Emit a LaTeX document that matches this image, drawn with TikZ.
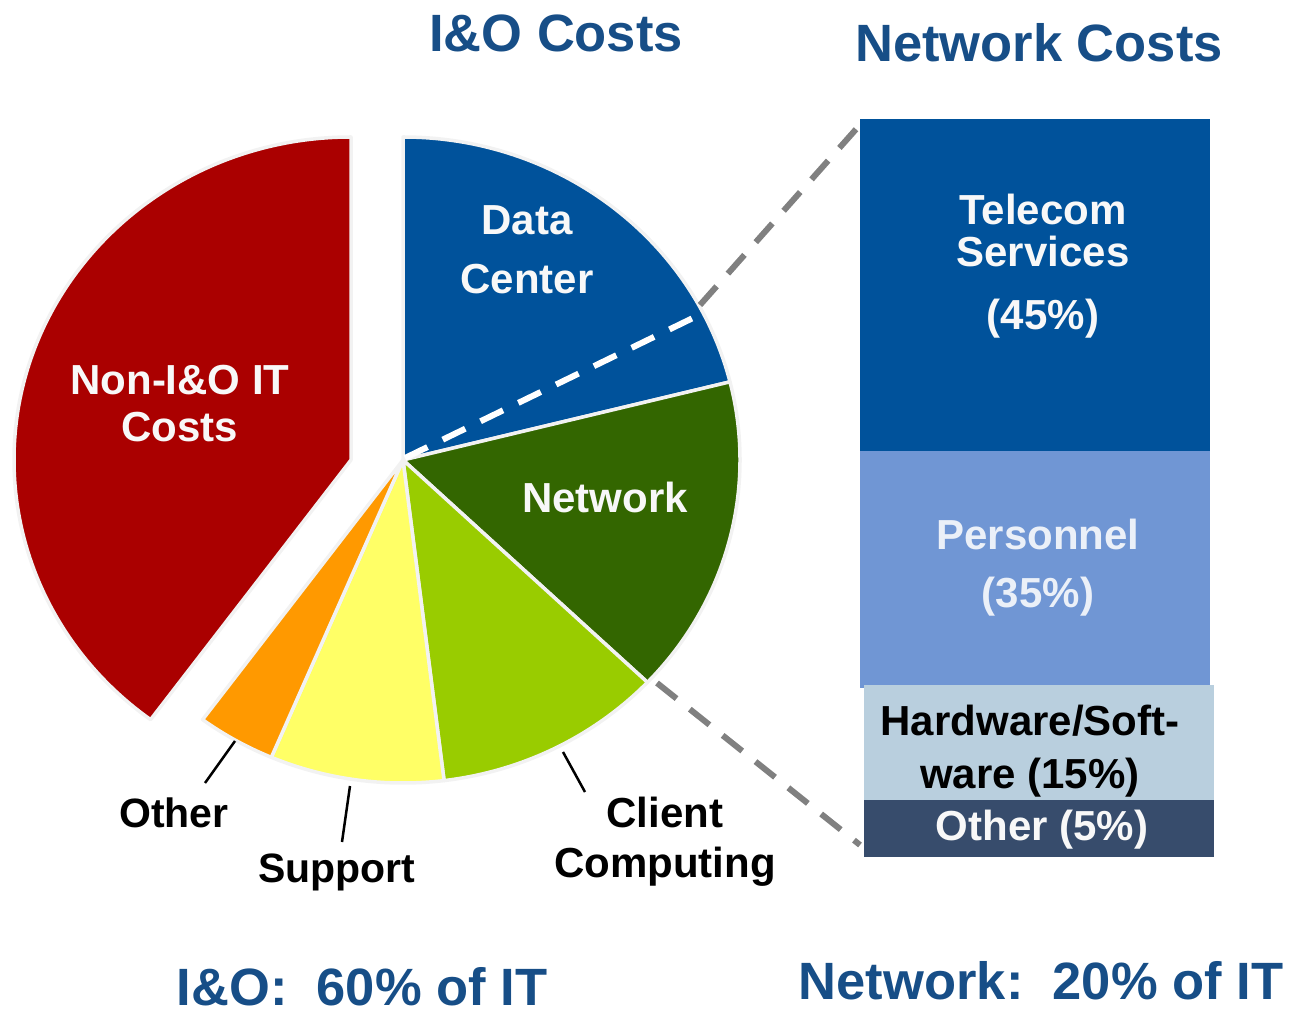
\documentclass[tikz,border=0pt]{standalone}
\usepackage{fontspec}
\setmainfont{Liberation Sans}
\definecolor{dcblue}{RGB}{0,82,155}
\definecolor{netgreen}{RGB}{51,102,0}
\definecolor{limec}{RGB}{153,204,0}
\definecolor{yelc}{RGB}{255,255,102}
\definecolor{orngc}{RGB}{255,153,0}
\definecolor{redc}{RGB}{170,0,0}
\definecolor{titleblue}{RGB}{23,78,135}
\definecolor{persblue}{RGB}{112,150,212}
\definecolor{hwblue}{RGB}{185,207,222}
\definecolor{othblue}{RGB}{55,76,108}
\definecolor{offwhite}{RGB}{248,248,248}
\definecolor{perstext}{RGB}{235,240,248}
\definecolor{rimc}{RGB}{242,242,242}
\definecolor{zoomgray}{RGB}{128,128,128}
\begin{document}
\begin{tikzpicture}[x=1pt,y=1pt,
  slice/.style={draw=rimc, line width=3.5pt, line join=round},
  titletext/.style={font=\bfseries\fontsize{52.5}{60}\selectfont, text=titleblue, anchor=base, inner sep=0pt},
  lbl/.style={font=\bfseries\fontsize{42}{#1}\selectfont, anchor=base, align=center, inner sep=0pt},
  lbl/.default=50,
  barbox/.style={inner sep=0pt, outer sep=0pt, anchor=south west, draw=none},
  leader/.style={line width=2.5pt, black},
  zoomline/.style={draw=zoomgray, line width=6pt, dash pattern=on 25pt off 17pt},
  innerline/.style={draw=white, line width=6pt, dash pattern=on 25pt off 17pt}]
\useasboundingbox (0,0) rectangle (1289,1015);

% pie
\coordinate (C) at (403,555);
\coordinate (Cr) at (351,555);
\path[slice, fill=dcblue] (C) -- +(14:337 and 323) arc[start angle=14, end angle=90, x radius=337, y radius=323] -- cycle;
\path[slice, fill=netgreen] (C) -- +(-43.5:337 and 323) arc[start angle=-43.5, end angle=14, x radius=337, y radius=323] -- cycle;
\path[slice, fill=limec] (C) -- +(-83:337 and 323) arc[start angle=-83, end angle=-43.5, x radius=337, y radius=323] -- cycle;
\path[slice, fill=yelc] (C) -- +(-113:337 and 323) arc[start angle=-113, end angle=-83, x radius=337, y radius=323] -- cycle;
\path[slice, fill=orngc] (C) -- +(-126.5:337 and 323) arc[start angle=-126.5, end angle=-113, x radius=337, y radius=323] -- cycle;
\path[slice, fill=redc] (Cr) -- +(90:337 and 323) arc[start angle=90, end angle=233.5, x radius=337, y radius=323] -- cycle;

% dashed lines
\coordinate (wd1) at (405,557);
\coordinate (wd2) at (695,698);
\coordinate (zt1) at (700,710);
\coordinate (zt2) at (858,888);
\coordinate (zb1) at (657,332);
\coordinate (zb2) at (860,170);
\draw[innerline] (wd1) -- (wd2);
\draw[zoomline] (zt1) -- (zt2);
\draw[zoomline] (zb1) -- (zb2);

% bar
\node[barbox, fill=dcblue, minimum width=350pt, minimum height=332pt] (telbox) at (860,564) {};
\node[barbox, fill=persblue, minimum width=350pt, minimum height=237pt] (perbox) at (860,327) {};
\node[barbox, fill=hwblue, minimum width=350pt, minimum height=115pt] (hwbox) at (864,215) {};
\node[barbox, fill=othblue, minimum width=350pt, minimum height=57pt] (othbox) at (864,158) {};

% titles
\node[titletext] (t1) at (556,963) {I\&O Costs};
\node[titletext] (t2) at (1039,953) {Network Costs};
\node[titletext] (t3) at (362,10) {I\&O:\ \ 60\% of IT};
\node[titletext] (t4) at (1041,16) {Network:\ \ 20\% of IT};

% pie labels (base anchor = baseline of last line)
\node[lbl=59, text=offwhite] (ldc) at (527,721) {Data\\Center};
\node[lbl, text=offwhite] (lnet) at (605,502) {Network};
\node[lbl=47, text=offwhite] (lnon) at (180,573) {Non-I\&O IT\\Costs};
\node[lbl, text=black, font=\bfseries\fontsize{41}{50}\selectfont] (loth) at (174,188) {Other};
\node[lbl, text=black, font=\bfseries\fontsize{41}{50}\selectfont] (lsup) at (337,133) {Support};
\node[lbl=50, text=black] (lcli) at (665,138) {Client\\Computing};

% leaders
\coordinate (o1) at (235,274);
\coordinate (o2) at (205,232);
\coordinate (s1) at (350,229);
\coordinate (s2) at (342,173);
\coordinate (c1) at (563,263);
\coordinate (c2) at (585,223);
\draw[leader] (o1) -- (o2);
\draw[leader] (s1) -- (s2);
\draw[leader] (c1) -- (c2);

% bar labels
\node[lbl=42, text=offwhite] (ltel) at (1043,685) {Telecom\\Services\\[21pt](45\%)};
\node[lbl=58, text=perstext] (lper) at (1038,407) {Personnel\\(35\%)};
\node[lbl=53, text=black] (lhw) at (1030,227) {Hardware/Soft-\\ware (15\%)};
\node[lbl, text=offwhite] (lot) at (1042,175) {Other (5\%)};
\end{tikzpicture}
\end{document}
